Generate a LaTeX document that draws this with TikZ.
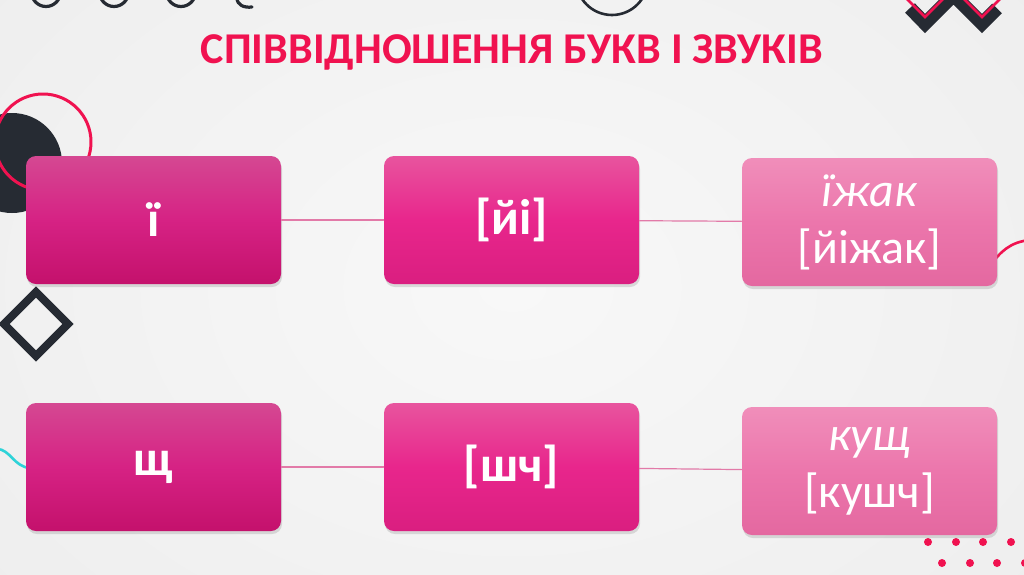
\documentclass[tikz,border=0pt]{standalone}
\usepackage{fontspec}
\setmainfont{Carlito}
\usepackage{tikz}
\usetikzlibrary{shadows}
\definecolor{crim}{RGB}{240,18,80}
\definecolor{slate}{RGB}{38,43,51}
\definecolor{aqua}{RGB}{46,211,216}
\definecolor{linkpink}{RGB}{226,122,168}
\definecolor{bginner}{RGB}{248,248,248}
\definecolor{bgouter}{RGB}{236,236,236}
\definecolor{lettop}{RGB}{213,72,146}
\definecolor{letmid}{RGB}{214,34,132}
\definecolor{letbot}{RGB}{196,17,108}
\definecolor{sndtop}{RGB}{232,84,158}
\definecolor{sndmid}{RGB}{232,38,140}
\definecolor{sndbot}{RGB}{218,30,128}
\definecolor{wrdtop}{RGB}{240,142,186}
\definecolor{wrdmid}{RGB}{236,118,172}
\definecolor{wrdbot}{RGB}{228,104,160}

\begin{document}
\begin{tikzpicture}[x=0.5pt,y=-0.5pt,line cap=round,line join=round,
  box/.style={rounded corners=5pt,minimum width=127.5pt,minimum height=64pt,inner sep=0pt,
    text=white,align=center,drop shadow={opacity=0.25,shadow xshift=0.5pt,shadow yshift=-1.5pt}},
  letbox/.style={box,top color=lettop,bottom color=letbot,middle color=letmid,
    font=\fontsize{25}{27}\selectfont\bfseries},
  sndbox/.style={box,top color=sndtop,bottom color=sndbot,middle color=sndmid,
    font=\fontsize{25}{27}\selectfont\bfseries},
  wrdbox/.style={box,top color=wrdtop,bottom color=wrdbot,middle color=wrdmid,
    font=\fontsize{24}{28.5}\selectfont},
  link/.style={linkpink,line width=0.6pt}]
\useasboundingbox (0,0) rectangle (1024,574);
\begin{scope}
\clip (0,0) rectangle (1024,574);
\shade[inner color=bginner,outer color=bgouter] (-300,-300) rectangle (1324,874);
\end{scope}
% decorations
\foreach \x in {46,114,181}
\draw[slate,line width=1.6pt] (\x,-8) circle (14.5);
\draw[slate,line width=1.6pt] (237,-2) .. controls (237,5) and (244,8) .. (252,7);
\draw[slate,line width=1.3pt] (612,-21) circle (36);
\fill[slate] (12,163) circle (50);
\draw[crim,line width=1.5pt] (43,142) circle (48);
\draw[slate,line width=4pt,line join=miter] (36,292) -- (68,324) -- (36,356) -- (4,324) -- cycle;
\draw[aqua,line width=1.3pt] (-3,449) .. controls (10,449) and (14,467) .. (30,468);
\draw[crim,line width=1.3pt] (990,266) .. controls (1000,252) and (1010,242) .. (1030,240);
\draw[slate,line width=6.75pt,line cap=butt,line join=miter] (910,8) -- (925,23.5) -- (953.5,-5) -- (982,23.5) -- (997,8.5);
\draw[crim,line width=1.3pt,line join=miter] (905,-3) -- (925,17) -- (953.5,-11.5) -- (982,17) -- (1002,-3);
\foreach \x in {928,956,983,1011}
\fill[crim] (\x,542) circle (2pt);
\foreach \x in {942,970,997,1025}
\fill[crim] (\x,563) circle (2pt);
% title
\node[text=crim,font=\fontsize{22}{24}\selectfont\bfseries] (ttl) at (512,52) {СПІВВІДНОШЕННЯ БУКВ І ЗВУКІВ};
% boxes
\node[letbox] (let1) at (153.5,220) {ї};
\node[sndbox] (snd1) at (511.5,220) {[йі]};
\node[wrdbox] (wrd1) at (869.5,222) {\textit{їжак}\\{[йіжак]}};
\node[letbox] (let2) at (153.5,467) {щ};
\node[sndbox] (snd2) at (511.5,467) {[шч]};
\node[wrdbox] (wrd2) at (869.5,471) {\textit{кущ}\\{[кушч]}};
\draw[link] (let1) -- (snd1);
\draw[link] (snd1) -- (wrd1);
\draw[link] (let2) -- (snd2);
\draw[link] (snd2) -- (wrd2);
\end{tikzpicture}
\end{document}
